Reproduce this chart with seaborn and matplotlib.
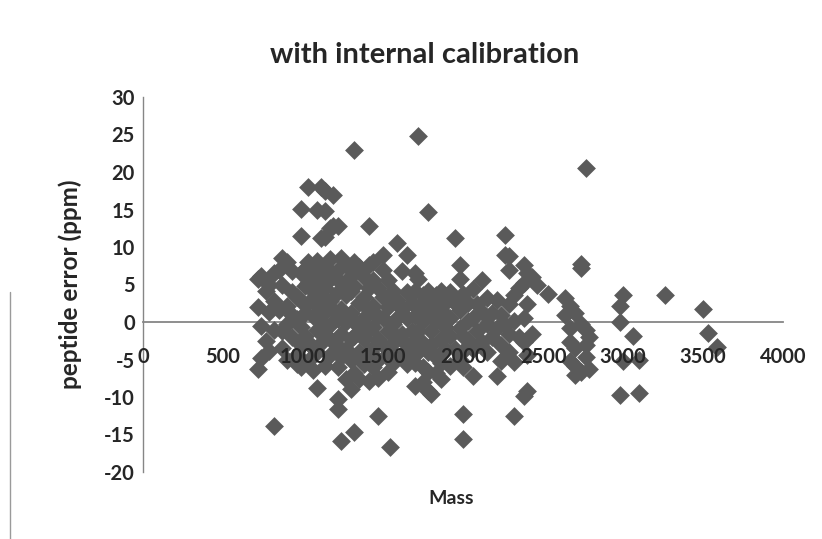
import matplotlib
matplotlib.use("Agg")
import matplotlib.pyplot as plt
import seaborn as sns
import pandas as pd

# ---- data ----
columns = {
    720: [-6.3, 2.0, 5.8],
    740: [6.1, -0.5, -4.8],
    770: [4.2, -2.5],
    790: [5.0, 1.3, -3.8],
    820: [6.5, 2.8, -1.0, -13.8],
    850: [1.6, 7.0],
    870: [8.6, 5.0, -1.2, -3.5],
    900: [8.0, 2.2, -0.2, -5.0],
    930: [6.8, 4.0, 1.0, -2.0],
    960: [3.4, 0.4, -4.4, -5.6],
    990: [15.1, 11.5, 6.5, 2.8, -0.6, -3.0, -6.0],
    1010: [4.8, 1.2, -1.8, 7.1],
    1030: [18.0, 8.0, 5.2, 2.6, -2.6, -5.2],
    1060: [6.6, 4.1, 0.8, -3.4, -6.4],
    1090: [8.2, 5.5, 2.4, -1.0, -4.0, -8.8, 15.0],
    1110: [18.0, 11.2, 6.8, 3.6, 0.2, -2.8],
    1140: [17.5, 14.8, 11.4, 7.5, 4.6, 1.4, -1.6, -5.8],
    1170: [12.5, 5.8, 2.8, -0.4, -4.4, 8.4],
    1190: [16.9, 12.8, 6.2, 1.6, -2.6],
    1220: [12.8, 7.0, 4.0, 0.4, -3.2, -6.0, -10.3, -11.6],
    1240: [8.6, 5.2, 1.8, -1.6, -4.6, -15.9],
    1270: [7.6, 3.6, 0.0, -3.6, -7.6],
    1300: [6.2, 4.2, 1.2, -2.2, -5.0, -8.9],
    1320: [22.9, 8.0, 4.8, 0.2, -1.8, -6.8, -14.7],
    1350: [7.4, 2.6, -0.6, -4.0, -7.6],
    1380: [6.0, 3.4, 0.6, -2.2, -5.6],
    1410: [12.8, 7.6, 4.6, 1.6, -1.0, -4.0, -7.8],
    1440: [8.0, 5.6, 2.2, -0.6, -3.4, -6.0],
    1470: [4.6, 0.8, -2.2, -5.0, -12.5, -7.4],
    1500: [9.0, 7.0, 3.4, 0.6, -3.0],
    1530: [5.6, 2.0, -1.2, -4.2, -6.6],
    1545: [-16.7],
    1560: [4.2, -0.2, -2.8, -5.4],
    1590: [10.5, 3.0, 0.6, -2.0],
    1620: [6.8, 1.8, -1.6, -4.4],
    1650: [9.0, 4.0, 0.6, -3.0, -5.6],
    1680: [2.6, -1.2, -4.0],
    1700: [6.6, 4.2, 0.8, -2.4, -5.4, -8.5],
    1720: [24.8, 5.8, 2.0, -1.2, -4.0],
    1750: [3.6, 0.2, -2.8, -6.0, -8.0],
    1780: [14.7, 4.2, 1.2, -4.0, -6.6, -9.2],
    1800: [2.4, -1.2, -3.0, -9.6],
    1830: [3.6, 0.2, -4.6, -6.8],
    1860: [4.2, 1.6, -2.2, -5.4, -7.6],
    1890: [2.6, -0.6, -3.6],
    1920: [4.0, 0.6, -1.8, -5.8],
    1950: [11.2, 2.6, -3.6],
    1980: [7.6, 5.8, 1.6, -0.8, -5.0],
    2000: [3.8, -1.8, -3.8, -6.0, -15.6, -12.2],
    2030: [2.6, 0.2, -2.4],
    2060: [4.4, 0.6, -3.6, -7.2],
    2090: [2.4, -1.2],
    2120: [5.6, 1.4, -2.6],
    2150: [3.2, -0.2, -4.0],
    2180: [1.2, -2.0],
    2210: [3.0, -0.8, -7.2],
    2240: [1.0, -3.0, -5.2],
    2260: [11.6, 9.0, -0.4],
    2290: [8.8, 7.0, 2.4, -1.6, -4.0],
    2320: [3.6, 0.2, -5.3, -12.5],
    2350: [4.6, -2.0],
    2380: [7.6, 5.2, 0.6, -2.6, -9.9],
    2400: [6.6, 2.4, -4.4, -9.2],
    2430: [6.0, -1.6],
    2460: [5.0],
    2530: [3.8],
    2640: [3.2, 1.0],
    2670: [2.2, -0.8, -2.6, -5.2],
    2700: [1.2, -3.4, -7.0, -5.8],
    2740: [7.8, 7.2, -0.2, -6.6],
    2770: [20.5, -1.0, -3.0, -4.6],
    2790: [-2.0, -6.3],
    2980: [0.0, -9.7, 2.2],
    3000: [3.6, -5.2],
    3060: [-1.9],
    3100: [-5.0, -9.5],
    3260: [3.6],
    3500: [1.8],
    3530: [-1.4],
    3590: [-3.3],
}

mass = [m for m, vals in columns.items() for _ in vals]
ppm = [v for vals in columns.values() for v in vals]

x_ticks = [0, 500, 1000, 1500, 2000, 2500, 3000, 3500, 4000]
y_ticks = [-20, -15, -10, -5, 0, 5, 10, 15, 20, 25, 30]

title = "with internal calibration"
x_label = "Mass"
y_label = "peptide error (ppm)"

# ---- plot ----
sns.set_theme(style="white")
plt.rcParams["font.family"] = ["Lato", "DejaVu Sans"]
plt.rcParams["font.weight"] = "bold"

df = pd.DataFrame({"mass": mass, "ppm": ppm})

fig = plt.figure(figsize=(8.22, 5.39), dpi=100)
ax = fig.add_axes([143 / 822, 1 - 472 / 539, 640 / 822, 375 / 539])

sns.scatterplot(data=df, x="mass", y="ppm", marker="D", s=92,
                color="#5a5a5a", linewidth=0, ax=ax, zorder=1)

for side in ["top", "right"]:
    ax.spines[side].set_visible(False)
ax.spines["bottom"].set_position(("data", 0))
ax.spines["bottom"].set_color("#868686")
ax.spines["left"].set_color("#868686")
ax.spines["bottom"].set_linewidth(1.3)
ax.spines["left"].set_linewidth(1.0)
ax.spines["bottom"].set_zorder(0.5)

ax.set_xlim(0, 4000)
ax.set_ylim(-20, 30)
ax.set_xticks(x_ticks)
ax.set_yticks(y_ticks)
ax.set_xticklabels([str(t) for t in x_ticks], fontsize=14.5, fontweight="bold")
ax.set_yticklabels([str(t) for t in y_ticks], fontsize=14.5, fontweight="bold")
ax.tick_params(axis="x", length=0, pad=18, labelsize=14.5)
ax.tick_params(axis="y", length=0, pad=6, labelsize=14.5)
ax.xaxis.set_zorder(5)
ax.set_xlabel("")
ax.set_ylabel("")

fig.text(425 / 822, 1 - 55 / 539, title, ha="center", va="center",
         fontsize=21, fontweight="bold")
fig.text(451 / 822, 1 - 498 / 539, x_label, ha="center", va="center",
         fontsize=14, fontweight="bold")
fig.text(70 / 822, 1 - 284 / 539, y_label, ha="center", va="center",
         rotation=90, fontsize=17.5, fontweight="bold")

# chart-area border remnant on the left
fig.add_artist(plt.Line2D([10 / 822, 10 / 822], [0, 1 - 292 / 539],
                          transform=fig.transFigure, color="#9a9a9a", lw=1))

fig.savefig("out.png", dpi=100)
